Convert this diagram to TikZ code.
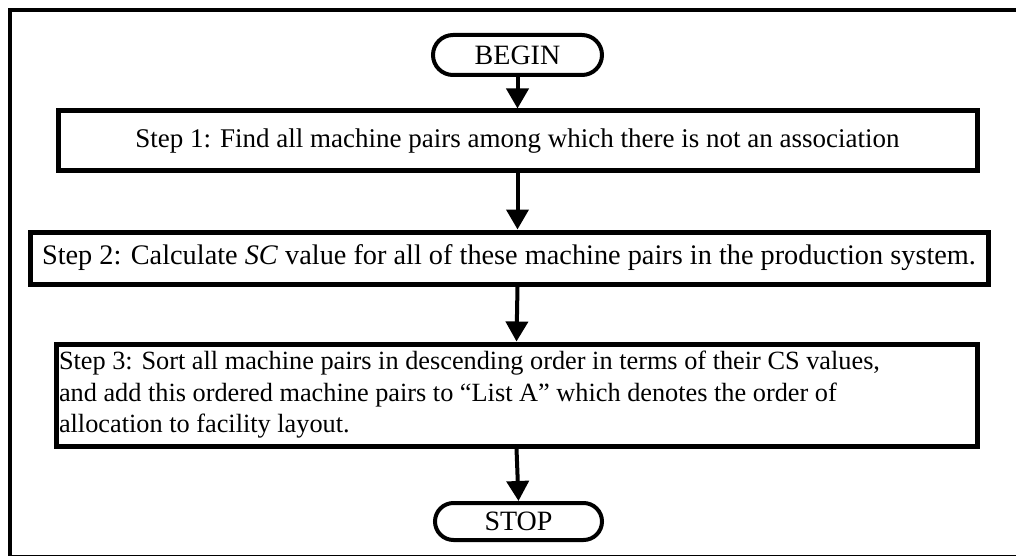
\documentclass[tikz,border=0pt]{standalone}
\usepackage{fontspec}
\setmainfont{Liberation Serif}
\usetikzlibrary{arrows.meta,shapes.misc}
\tikzset{
  txt/.style={font=\fontsize{#1}{31.5}\selectfont},
  term/.style={draw, line width=4pt, rounded rectangle, minimum height=40pt, inner sep=0pt, txt=28},
  stepbox/.style={draw, line width=5pt, rectangle, inner sep=0pt},
  arr/.style={line width=4pt, -{Triangle[width=22pt,length=20pt]}},
}
\begin{document}
\begin{tikzpicture}[x=1pt,y=-1pt]
\useasboundingbox (0,0) rectangle (1016,556);
\draw[line width=4pt] (10,10) rectangle (1040,557);
\node[term, minimum width=169pt] (begin) at (517.5,55) {BEGIN};
\node[stepbox, txt=27, minimum width=919pt, minimum height=60pt] (s1) at (517.5,141) {Step 1: Find all machine pairs among which there is not an association};
\node[stepbox, txt=28.3, minimum width=958pt, minimum height=52pt] (s2) at (509,258) {Step 2: Calculate \textit{SC} value for all of these machine pairs in the production system.};
\node[stepbox, txt=26.3, minimum width=921pt, minimum height=102pt, text width=915pt, align=flush left, inner xsep=3pt] (s3) at (516.5,395) {Step 3: Sort all machine pairs in descending order in terms of their CS values,\\ and add this ordered machine pairs to “List A” which denotes the order of\\ allocation to facility layout.};
\node[term, minimum width=167pt, minimum height=37pt] (stop) at (518.5,521.5) {STOP};
\draw[arr] (begin.south) -- (begin.south |- s1.north);
\draw[arr] (s1.south) -- (s1.south |- s2.north);
\draw[arr] (s1.south |- s2.south) -- (s3.north);
\draw[arr] (s3.south) -- (stop.north);
\end{tikzpicture}
\end{document}
